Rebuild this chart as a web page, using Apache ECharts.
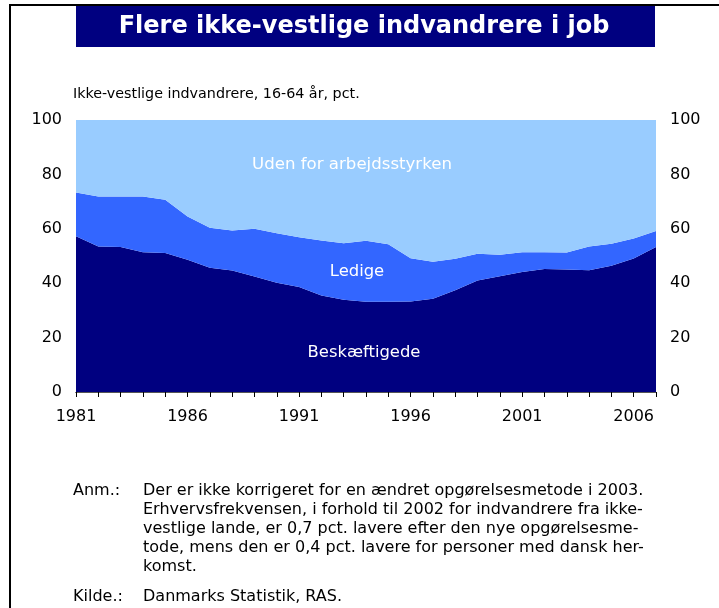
<!DOCTYPE html>
<html>
<head>
<meta charset="utf-8">
<script src="https://cdn.jsdelivr.net/npm/echarts@6/dist/echarts.min.js"></script>
<style>
html,body{margin:0;padding:0;background:#fff;}
#c{width:719px;height:608px;}
</style>
</head>
<body>
<div id="c"></div>
<script>
var years = ['1981','1982','1983','1984','1985','1986','1987','1988','1989','1990','1991','1992','1993','1994','1995','1996','1997','1998','1999','2000','2001','2002','2003','2004','2005','2006','2007'];
var employed = [57.3,53.5,53.3,51.4,51.1,48.6,45.7,44.7,42.5,40.2,38.6,35.5,33.9,33.2,33.2,33.3,34.3,37.4,41.0,42.6,44.1,45.2,45.0,44.8,46.4,49.1,53.3];
var unemployed = [16.0,18.4,18.6,20.5,19.6,15.9,14.7,14.7,17.5,18.2,18.3,20.2,20.8,22.4,21.1,15.9,13.6,11.6,9.8,7.9,7.3,6.2,6.3,8.7,8.1,7.3,5.9];
var outside = [26.7,28.1,28.1,28.1,29.3,35.5,39.6,40.6,40.0,41.6,43.1,44.3,45.3,44.4,45.7,50.8,52.1,51.0,49.2,49.5,48.6,48.6,48.7,46.5,45.5,43.6,40.8];
var yTicks = {min:0, max:100, interval:20};
var seriesNames = ['Beskæftigede','Ledige','Uden for arbejdsstyrken'];
var titleText = 'Flere ikke-vestlige indvandrere i job';
var subtitleText = 'Ikke-vestlige indvandrere, 16-64 år, pct.';
var noteLines = ['Der er ikke korrigeret for en ændret opgørelsesmetode i 2003.','Erhvervsfrekvensen, i forhold til 2002 for indvandrere fra ikke-','vestlige lande, er 0,7 pct. lavere efter den nye opgørelsesme-','tode, mens den er 0,4 pct. lavere for personer med dansk her-','komst.'];
var sourceText = 'Danmarks Statistik, RAS.';

var FONT = '"DejaVu Sans", Verdana, sans-serif';
var chart = echarts.init(document.getElementById('c'), null, {renderer:'canvas'});

function areaSeries(name, data, color){
  return {
    name:name, type:'line', stack:'total', data:data,
    symbol:'none', lineStyle:{width:0}, areaStyle:{color:color, opacity:1},
    silent:true, z:2
  };
}

var graphics = [
  {type:'rect', shape:{x:9, y:4, width:710, height:2}, style:{fill:'#000'}},
  {type:'rect', shape:{x:9, y:4, width:2, height:604}, style:{fill:'#000'}},
  {type:'rect', shape:{x:76, y:6, width:579, height:41}, style:{fill:'#000080'}},
  {type:'text', x:364, y:27, style:{text:titleText, fill:'#fff', font:'bold 24px '+FONT, textAlign:'center', textVerticalAlign:'middle'}},
  {type:'text', x:73, y:94, style:{text:subtitleText, fill:'#000', font:'14.3px '+FONT, textVerticalAlign:'middle'}},
  {type:'text', x:352, y:165, z:10, style:{text:seriesNames[2], fill:'#fff', font:'16.6px '+FONT, textAlign:'center', textVerticalAlign:'middle'}},
  {type:'text', x:357, y:272, z:10, style:{text:seriesNames[1], fill:'#fff', font:'16.4px '+FONT, textAlign:'center', textVerticalAlign:'middle'}},
  {type:'text', x:364, y:353, z:10, style:{text:seriesNames[0], fill:'#fff', font:'16.4px '+FONT, textAlign:'center', textVerticalAlign:'middle'}},
  {type:'text', x:73, y:491, style:{text:'Anm.:', fill:'#000', font:'16px '+FONT, textVerticalAlign:'middle'}},
  {type:'text', x:73, y:597, style:{text:'Kilde.:', fill:'#000', font:'16px '+FONT, textVerticalAlign:'middle'}},
  {type:'text', x:143, y:597, style:{text:sourceText, fill:'#000', font:'16px '+FONT, textVerticalAlign:'middle'}}
];
noteLines.forEach(function(l,i){
  graphics.push({type:'text', x:143, y:491+i*19, style:{text:l, fill:'#000', font:'16px '+FONT, textVerticalAlign:'middle'}});
});

chart.setOption({
  animation:false,
  backgroundColor:'#fff',
  grid:{left:76, right:63, top:120, bottom:216, show:false},
  xAxis:[{
    type:'category', data:years, boundaryGap:false,
    axisLine:{show:true, lineStyle:{color:'#000', width:1}},
    axisTick:{show:true, interval:0, length:5, lineStyle:{color:'#000'}},
    axisLabel:{interval:4, color:'#000', fontSize:16, fontFamily:FONT, margin:17},
    splitLine:{show:false}, z:5
  },{
    type:'category', data:years, boundaryGap:false, position:'top',
    axisLine:{show:true, lineStyle:{color:'#555', width:1}},
    axisTick:{show:false}, axisLabel:{show:false}, splitLine:{show:false}, z:5
  }],
  yAxis:[
    {type:'value', min:yTicks.min, max:yTicks.max, interval:yTicks.interval, position:'left',
     axisLine:{show:false}, axisTick:{show:false}, splitLine:{show:false},
     axisLabel:{color:'#000', fontSize:16, fontFamily:FONT, margin:14}},
    {type:'value', min:yTicks.min, max:yTicks.max, interval:yTicks.interval, position:'right',
     axisLine:{show:false}, axisTick:{show:false}, splitLine:{show:false},
     axisLabel:{color:'#000', fontSize:16, fontFamily:FONT, margin:14}}
  ],
  series:[
    areaSeries(seriesNames[0], employed, '#000080'),
    areaSeries(seriesNames[1], unemployed, '#3366ff'),
    areaSeries(seriesNames[2], outside, '#99ccff')
  ],
  graphic:graphics
});
</script>
</body>
</html>
